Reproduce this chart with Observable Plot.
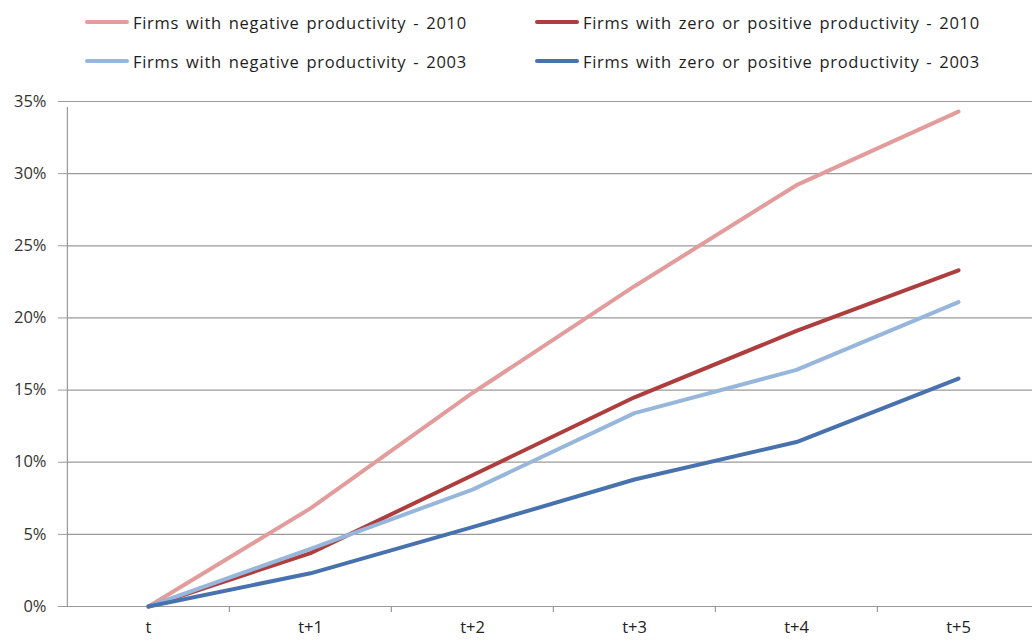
<!DOCTYPE html>
<html>
<head>
<meta charset="utf-8">
<script src="https://cdn.jsdelivr.net/npm/d3@7"></script>
<script src="https://cdn.jsdelivr.net/npm/@observablehq/plot@0.6"></script>
<style>
  html, body { margin: 0; padding: 0; background: #fff; }
  body { width: 1032px; height: 641px; overflow: hidden; font-family: "Open Sans", sans-serif; }
  #legend { position: relative; height: 80px; width: 1032px; }
  .item { position: absolute; display: flex; align-items: center; font-size: 16.5px; color: #1e1e1e; white-space: nowrap; letter-spacing: 0.7px; word-spacing: 2px; }
  .swatch { width: 44px; height: 4px; border-radius: 2px; margin-right: 4px; }
  #chart svg { display: block; }
</style>
</head>
<body>
<div id="legend"></div>
<div id="chart"></div>
<script>
const periods = ["t", "t+1", "t+2", "t+3", "t+4", "t+5"];
const seriesNames = [
  "Firms with negative productivity - 2010",
  "Firms with zero or positive productivity - 2010",
  "Firms with negative productivity - 2003",
  "Firms with zero or positive productivity - 2003"
];
const negative2010 = [0, 0.068, 0.148, 0.222, 0.292, 0.343];
const positive2010 = [0, 0.037, 0.091, 0.145, 0.191, 0.233];
const negative2003 = [0, 0.040, 0.081, 0.134, 0.164, 0.211];
const positive2003 = [0, 0.023, 0.055, 0.088, 0.114, 0.158];
const yTicks = [0, 0.05, 0.10, 0.15, 0.20, 0.25, 0.30, 0.35];
const colors = ["#e39c9c", "#ae3e3e", "#97b6dc", "#4872ad"];

const seriesValues = [negative2010, positive2010, negative2003, positive2003];
const data = [];
seriesValues.forEach((vals, si) => vals.forEach((v, i) => data.push({series: seriesNames[si], period: periods[i], value: v})));

// legend
const legend = document.getElementById("legend");
const legendPos = [[85, 22], [535, 22], [85, 61], [535, 61]];
seriesNames.forEach((name, i) => {
  const el = document.createElement("div");
  el.className = "item";
  el.style.left = legendPos[i][0] + "px";
  el.style.top = (legendPos[i][1] - 12) + "px";
  el.style.height = "24px";
  el.innerHTML = `<span class="swatch" style="background:${colors[i]}"></span><span>${name}</span>`;
  legend.appendChild(el);
});

const xRange = [66, 1039.5];
const step = (xRange[1] - xRange[0]) / periods.length;

const chart = Plot.plot({
  width: 1032,
  height: 561,
  marginLeft: 67,
  marginRight: 0,
  marginTop: 21,
  marginBottom: 35,
  style: {fontFamily: "Open Sans, sans-serif", fontSize: "16.5px", color: "#333", background: "#fff"},
  x: {type: "point", domain: periods, range: xRange, padding: 0.5},
  y: {domain: [0, 0.35]},
  color: {domain: seriesNames, range: colors},
  marks: [
    Plot.ruleY(yTicks, {stroke: "#9a9a9a", strokeWidth: 1.2}),
    Plot.ruleX(periods.slice(1), {x: d => d, dx: -step / 2, y1: 0, y2: 0, insetBottom: -6, stroke: "#9a9a9a", strokeWidth: 1.2}),
    Plot.ruleX([periods[0]], {x: d => d, dx: -step / 2, y1: 0, y2: 0.35, insetBottom: -6, stroke: "#9a9a9a", strokeWidth: 1.2}),
    Plot.axisY({ticks: yTicks, tickFormat: d3.format(".0%"), tickSize: 9, tickPadding: 12, stroke: "#9a9a9a", label: null, fill: "#333"}),
    Plot.axisX({tickSize: 0, tickPadding: 15, label: null, fill: "#222"}),
    Plot.lineY(data, {x: "period", y: "value", z: "series", stroke: "series", strokeWidth: 4, strokeLinejoin: "round", strokeLinecap: "round"})
  ]
});
document.getElementById("chart").appendChild(chart);
</script>
</body>
</html>
